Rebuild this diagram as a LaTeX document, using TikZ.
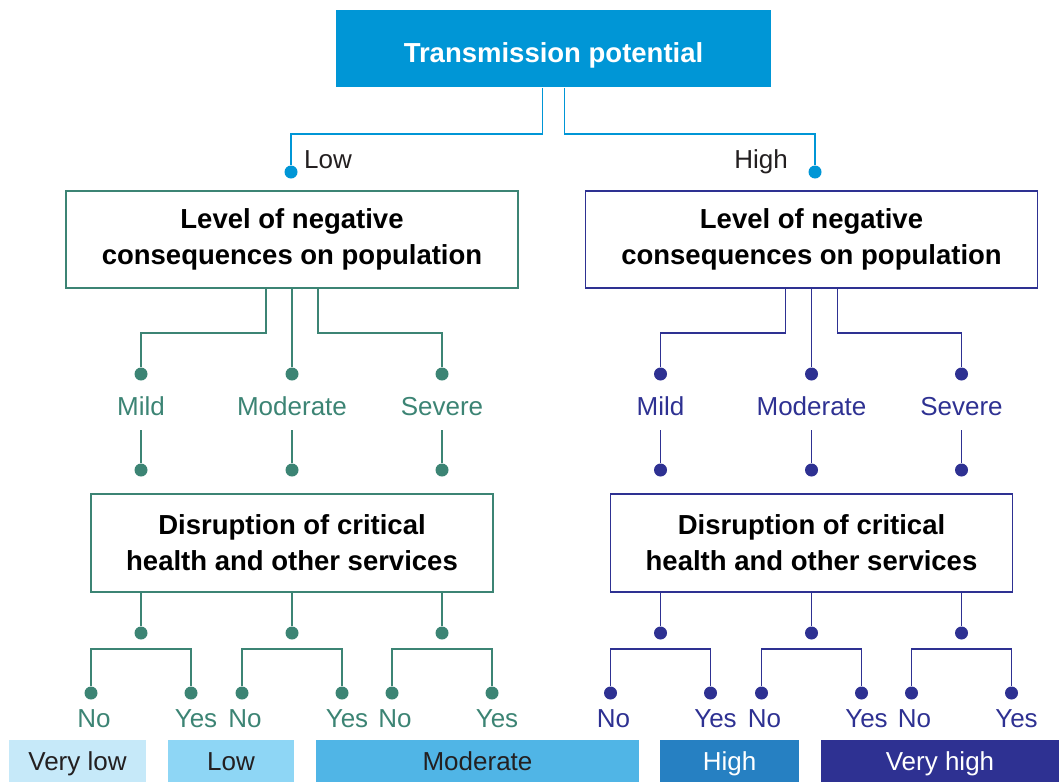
\documentclass[tikz,border=0pt]{standalone}
\usepackage{fontspec}
\setmainfont{Liberation Sans}

\definecolor{tpblue}{HTML}{0096D6}
\definecolor{greenline}{HTML}{3C8474}
\definecolor{navyline}{HTML}{2E3192}
\definecolor{riskvlow}{HTML}{C6E9F9}
\definecolor{risklow}{HTML}{8ED6F5}
\definecolor{riskmod}{HTML}{50B5E6}
\definecolor{riskhigh}{HTML}{2680C2}
\definecolor{riskvhigh}{HTML}{2E3192}
\definecolor{darktext}{HTML}{231F20}

\begin{document}
\begin{tikzpicture}[x=1pt,y=-1pt]
  \tikzstyle{every node}=[font=\fontsize{26}{31}\selectfont]
  \tikzstyle{box}=[draw, line width=1.7pt, align=center, inner sep=0pt,
    font=\bfseries\fontsize{27.5}{36}\selectfont]
  \tikzstyle{dot}=[circle, fill, inner sep=0pt, minimum size=13pt]
  \tikzstyle{answer}=[anchor=base, inner sep=0pt]
  \tikzstyle{severity}=[anchor=base, text height=19pt, text depth=6pt, inner xsep=0pt, inner ysep=9pt]
  \tikzstyle{riskbar}=[minimum height=42pt, inner sep=0pt, text height=19pt, text depth=0pt, text=darktext]
  \useasboundingbox (0,0) rectangle (1059,782);

  \node[box, draw=none, fill=tpblue, text=white, minimum width=435pt, minimum height=77pt,
    text height=27pt, text depth=0pt] (tp) at (553.5,48.5) {Transmission potential};
  \node[dot, tpblue] (low) at (291,172) {};
  \node[dot, tpblue] (high) at (815,172) {};
  \node[anchor=base west, inner sep=0pt, text=darktext] (lowtext) at (304,168) {Low};
  \node[anchor=base east, inner sep=0pt, text=darktext] (hightext) at (788,168) {High};
  \draw[tpblue, line width=1.7pt] ([xshift=-11pt]tp.south) -- ++(0,46) -| (low);
  \draw[tpblue, line width=1.7pt] ([xshift=11pt]tp.south) -- ++(0,46) -| (high);

  % one half of the tree for each transmission level
  \foreach \s/\c/\x in {low/greenline/292, high/navyline/811.5} {
    \node[box, draw=\c, minimum width=452pt, minimum height=97pt]
      (\s-lvl) at (\x,239.5) {Level of negative\\consequences on population};
    \node[box, draw=\c, minimum width=402pt, minimum height=98pt]
      (\s-dis) at (\x,543) {Disruption of critical\\health and other services};
    \foreach \k/\o/\j/\t in {1/-151/-26/Mild, 2/0/0/Moderate, 3/150/26/Severe} {
      \node[dot, \c] (\s-\k-a) at ({\x+\o},374) {};
      \node[severity, text=\c] (\s-\k) at ({\x+\o},415) {\t};
      \node[dot, \c] (\s-\k-b) at ({\x+\o},470) {};
      \node[dot, \c] (\s-\k-c) at ({\x+\o},633) {};
      \node[dot, \c] (\s-\k-no) at ({\x+\o-50},693) {};
      \node[dot, \c] (\s-\k-yes) at ({\x+\o+50},693) {};
      \node[answer, text=\c] (\s-\k-notext) at ({\x+\o-47},727) {No};
      \node[answer, text=\c] (\s-\k-yestext) at ({\x+\o+55},727) {Yes};
      \draw[\c, line width=1.7pt] ([xshift=\j pt]\s-lvl.south) -- ++(0,44) -| (\s-\k-a);
      \draw[\c, line width=1.7pt] (\s-\k) -- (\s-\k-b);
      \draw[\c, line width=1.7pt] (\s-\k-c) -- (\s-\k-c |- \s-dis.south);
      \draw[\c, line width=1.7pt] (\s-\k-no) -- ++(0,-44) -| (\s-\k-yes);
    }
  }

  % risk level bars
  \node[riskbar, fill=riskvlow, minimum width=137pt] (vlow) at (77.5,761) {Very low};
  \node[riskbar, fill=risklow, minimum width=126pt] (rlow) at (231,761) {Low};
  \node[riskbar, fill=riskmod, minimum width=323pt] (rmod) at (477.5,761) {Moderate};
  \node[riskbar, fill=riskhigh, text=white, minimum width=139pt] (rhigh) at (729.5,761) {High};
  \node[riskbar, fill=riskvhigh, text=white, minimum width=238pt] (vhigh) at (940,761) {Very high};
\end{tikzpicture}
\end{document}
